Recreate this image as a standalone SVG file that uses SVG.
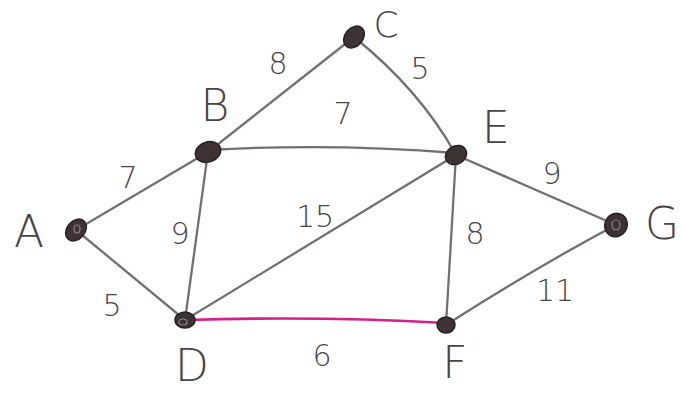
<svg xmlns="http://www.w3.org/2000/svg" width="683" height="394" viewBox="0 0 683 394">
<style>
.e{fill:none;stroke:#747070;stroke-width:2.3;stroke-linecap:round}
.m{fill:none;stroke:#d61f8c;stroke-width:2.6;stroke-linecap:round}
.n{fill:#3d3234;stroke:#2a2224;stroke-width:1.5}
.h{fill:none;stroke:#8c8486;stroke-width:1.2}
.lbl{font-family:"DejaVu Sans","Liberation Sans",sans-serif;font-weight:200;fill:#4a4446;text-anchor:middle;dominant-baseline:central}
.big{font-size:44px}
.w{font-size:30px}
</style>
<rect width="683" height="394" fill="#fff"/>
<g id="connectors">
<path class="e" d="M76,230 L208,152"/>
<path class="e" d="M76,230 L185,320"/>
<path class="e" d="M208,152 L185,320"/>
<path class="e" d="M208,152 L354,37"/>
<path class="e" d="M354,37 Q420,90 456,155"/>
<path class="e" d="M208,150 Q330,143 456,153"/>
<path class="e" d="M185,320 L456,155"/>
<path class="e" d="M456,155 L446,325"/>
<path class="e" d="M456,155 L616,225"/>
<path class="e" d="M446,325 Q540,265 616,225"/>
<path class="m" d="M185,320 Q320,316 446,323"/>
</g>
<g id="A"><ellipse class="n" cx="76" cy="230" rx="9" ry="12" transform="rotate(40 76 230)"/><ellipse class="h" cx="77" cy="229" rx="3" ry="4"/><text class="lbl big" x="29" y="231">A</text></g>
<g id="B"><ellipse class="n" cx="208" cy="152" rx="13" ry="10" transform="rotate(-20 208 152)"/><text class="lbl big" x="215" y="105">B</text></g>
<g id="C"><ellipse class="n" cx="354" cy="37" rx="9" ry="12" transform="rotate(40 354 37)"/><text class="lbl" style="font-size:36px" x="386" y="24">C</text></g>
<g id="D"><ellipse class="n" cx="185" cy="320" rx="10" ry="8"/><ellipse class="h" cx="183" cy="322" rx="4" ry="3"/><text class="lbl big" x="192" y="365">D</text></g>
<g id="E"><ellipse class="n" cx="456" cy="155" rx="11" ry="9" transform="rotate(-30 456 155)"/><text class="lbl big" x="496" y="127">E</text></g>
<g id="F"><ellipse class="n" cx="446" cy="325" rx="9" ry="8"/><text class="lbl big" x="455" y="362">F</text></g>
<g id="G"><ellipse class="n" cx="616" cy="225" rx="11" ry="12" transform="rotate(30 616 225)"/><ellipse class="h" cx="616" cy="225" rx="4" ry="5"/><text class="lbl big" x="662" y="223">G</text></g>
<g id="weights">
<text class="lbl w" x="128" y="177">7</text>
<text class="lbl w" x="180" y="233">9</text>
<text class="lbl w" x="112" y="305">5</text>
<text class="lbl w" x="278" y="63">8</text>
<text class="lbl w" x="420" y="68">5</text>
<text class="lbl w" x="343" y="113">7</text>
<text class="lbl w" x="552" y="173">9</text>
<text class="lbl w" x="475" y="233">8</text>
<text class="lbl w" x="555" y="290">11</text>
<text class="lbl w" x="315" y="216">15</text>
<text class="lbl w" x="322" y="355">6</text>
</g>
</svg>
